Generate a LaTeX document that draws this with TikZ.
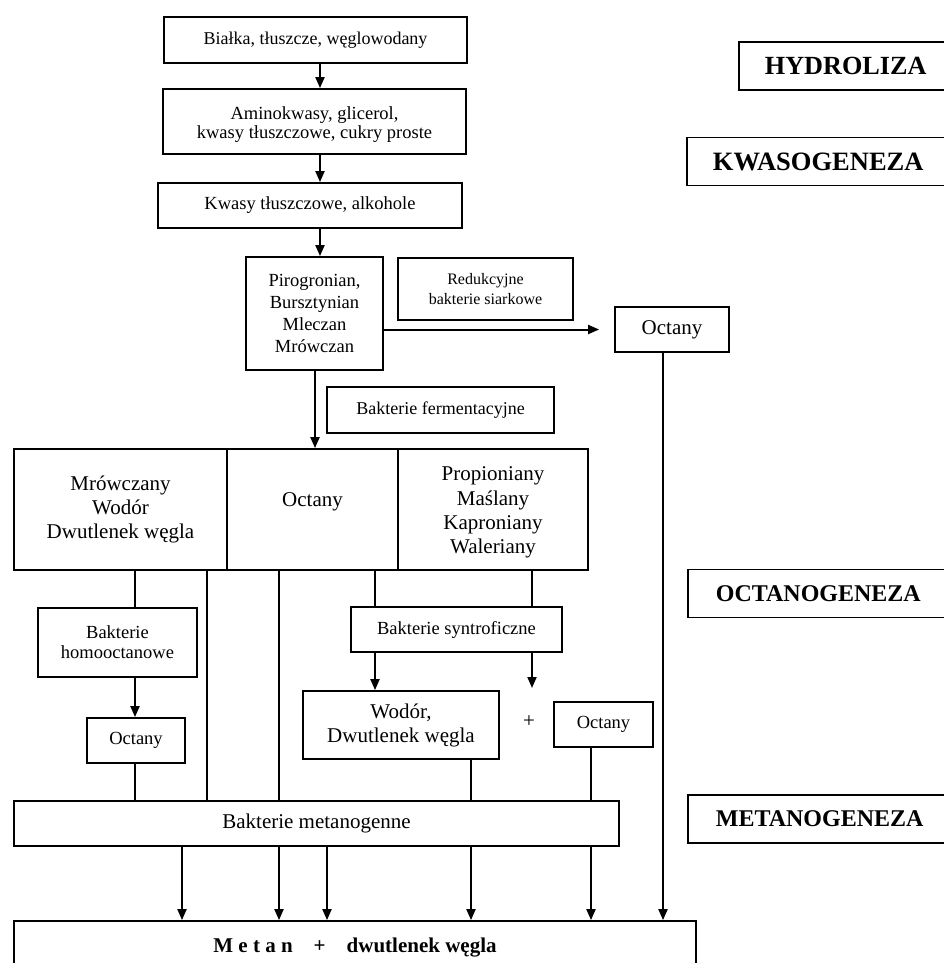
\documentclass[tikz,border=0pt]{standalone}
\usepackage{fontspec}
\setmainfont{Liberation Serif}
\usetikzlibrary{arrows.meta,calc}
\newcommand\fs[2]{\fontsize{#1}{#2}\selectfont}
\begin{document}
\begin{tikzpicture}[x=1pt,y=-1pt,
  box/.style={draw, line width=1.8pt, inner sep=0pt, align=center},
  arr/.style={line width=2pt, -{Triangle[length=11pt,width=9pt]}},
  ln/.style={line width=1.7pt},
  phase/.style={draw, line width=1.8pt, anchor=west, inner ysep=0pt, inner xsep=26pt,
    minimum height=48pt, text width=240pt, align=left}
]
\useasboundingbox (0,0) rectangle (943,963);

% main chain
\node[box, minimum width=303pt, minimum height=46pt, font=\fs{18}{21}] (b1) at (315.5,40) {Białka, tłuszcze, węglowodany};
\node[box, minimum width=303pt, minimum height=65pt, font=\fs{18.5}{19}] (b2) at (314.5,121.5) {\raisebox{-8pt}[0pt][0pt]{\begin{tabular}{@{}c@{}}Aminokwasy, glicerol,\\kwasy tłuszczowe, cukry proste\end{tabular}}};
\node[box, minimum width=304pt, minimum height=45pt, font=\fs{18.5}{21}] (b3) at (310,205.5) {Kwasy tłuszczowe, alkohole};
\node[box, minimum width=137pt, minimum height=113pt, font=\fs{18.5}{21.7}] (b4) at (314.5,313.5) {Pirogronian,\\Bursztynian\\Mleczan\\Mrówczan};
\node[box, minimum width=175pt, minimum height=62pt, font=\fs{16}{20}] (red) at (485.5,289) {Redukcyjne\\bakterie siarkowe};
\node[box, minimum width=114pt, minimum height=45pt, font=\fs{21}{24}] (oct1) at (672,329.5) {Octany};
\node[box, minimum width=227pt, minimum height=46pt, font=\fs{18}{21}] (ferm) at (440.5,410) {Bakterie fermentacyjne};

% row of products
\node[box, minimum width=213pt, minimum height=121pt, font=\fs{21}{24.3}] (rowA) at (120.5,509.5) {Mrówczany\\Wodór\\Dwutlenek węgla};
\node[box, minimum width=171pt, minimum height=121pt, font=\fs{21}{24.3}] (rowB) at (312.5,509.5) {\raisebox{3pt}[0pt][0pt]{Octany}};
\node[box, minimum width=190pt, minimum height=121pt, font=\fs{21}{24.3}] (rowC) at (493,509.5) {\raisebox{-8pt}[0pt][0pt]{\begin{tabular}{@{}c@{}}Propioniany\\Maślany\\Kaproniany\\Waleriany\end{tabular}}};

% lower level
\node[box, minimum width=159pt, minimum height=69pt, font=\fs{18.5}{20}] (homo) at (117.5,642.5) {Bakterie\\homooctanowe};
\node[box, minimum width=98pt, minimum height=45pt, font=\fs{18.5}{21}] (octL) at (136,740.5) {Octany};
\node[box, minimum width=211pt, minimum height=45pt, font=\fs{18.5}{21}] (syn) at (456.5,629.5) {Bakterie syntroficzne};
\node[box, minimum width=196pt, minimum height=68pt, font=\fs{21}{24}] (wod) at (401,725) {Wodór,\\Dwutlenek węgla};
\node[font=\fs{21}{24}, inner sep=0pt] (plus) at (529,722) {+};
\node[box, minimum width=99pt, minimum height=45pt, font=\fs{18.5}{21}] (octR) at (603.5,724.5) {Octany};
\node[box, minimum width=605pt, minimum height=45pt, font=\fs{21}{24}] (met) at (316.5,823.5) {Bakterie metanogenne};
\node[box, minimum width=682pt, minimum height=54pt, font=\fs{21}{24}\bfseries] (final) at (355,948) {M e t a n\quad+\quad dwutlenek węgla};

% phase labels on the right
\node[phase, font=\fs{26.2}{30}\bfseries] (hyd) at (738,66) {HYDROLIZA};
\node[phase, font=\fs{26.5}{30}\bfseries] (kwa) at (686,161.5) {KWASOGENEZA};
\node[phase, font=\fs{24}{30}\bfseries, inner xsep=28pt] (octg) at (687,593.5) {OCTANOGENEZA};
\node[phase, font=\fs{24}{30}\bfseries, inner xsep=28pt] (metg) at (687,819) {METANOGENEZA};

% vertical lanes
\coordinate (l1) at (135,0);
\coordinate (l2) at (207,0);
\coordinate (l3) at (279,0);
\coordinate (l4) at (375,0);
\coordinate (l5) at (532,0);
\coordinate (l6) at (471,0);
\coordinate (l7) at (591,0);
\coordinate (l8) at (663,0);
\coordinate (l9) at (182,0);
\coordinate (l10) at (327,0);
\coordinate (a3) at (320,0);
\coordinate (a4) at (315,0);
\coordinate (synend) at (532,688);

% connectors of the main chain
\draw[arr] (b1.south -| a3) -- (b2.north -| a3);
\draw[arr] (b2.south -| a3) -- (b3.north -| a3);
\draw[arr] (b3.south -| a3) -- (b4.north -| a3);
\draw[arr, shorten >=15pt] (b4.east |- oct1.west) -- (oct1.west);
\draw[arr] (oct1.south -| l8) -- (final.north -| l8);
\draw[arr] (b4.south -| a4) -- (rowB.north -| a4);

% connectors below the row
\draw[ln] (rowA.south -| l1) -- (homo.north -| l1);
\draw[arr] (homo.south -| l1) -- (octL.north -| l1);
\draw[ln] (octL.south -| l1) -- (met.north -| l1);
\draw[ln] (rowA.south -| l2) -- (met.north -| l2);
\draw[ln] (rowB.south -| l3) -- (met.north -| l3);
\draw[ln] (rowC.south -| l4) -- (syn.north -| l4);
\draw[ln] (rowC.south -| l5) -- (syn.north -| l5);
\draw[arr] (syn.south -| l4) -- (wod.north -| l4);
\draw[arr] (syn.south -| l5) -- (synend);
\draw[ln] (wod.south -| l6) -- (met.north -| l6);
\draw[ln] (octR.south -| l7) -- (met.north -| l7);

% arrows into the final products
\foreach \l in {l9,l3,l10,l6,l7}
  \draw[arr] (met.south -| \l) -- (final.north -| \l);
\end{tikzpicture}
\end{document}
